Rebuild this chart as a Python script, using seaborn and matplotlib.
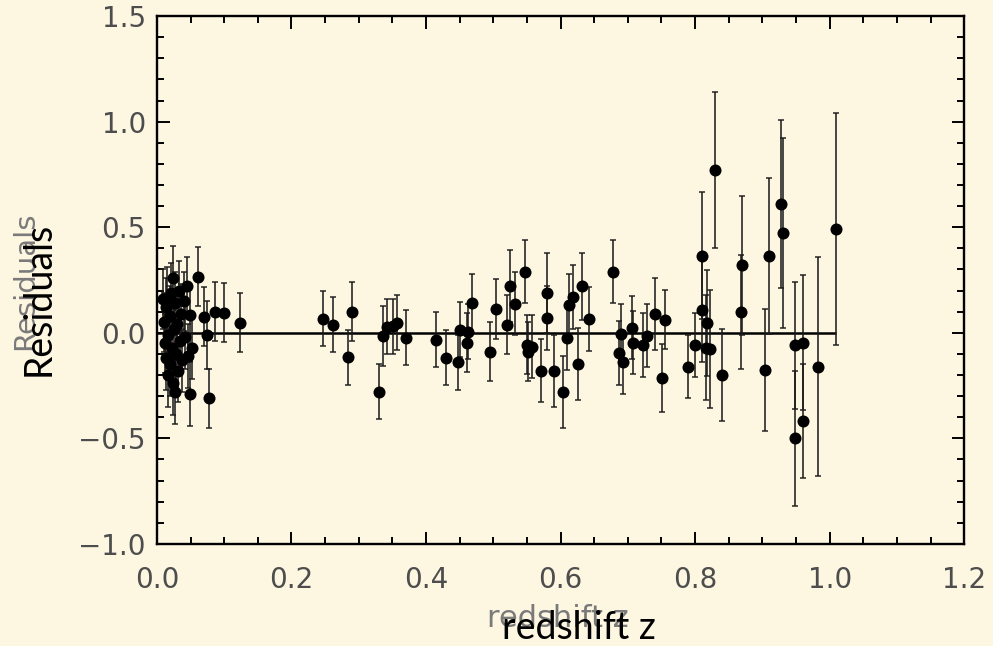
import numpy as np
import pandas as pd
import matplotlib
matplotlib.use("Agg")
import matplotlib.pyplot as plt
from matplotlib.ticker import MultipleLocator
import seaborn as sns

# residuals vs redshift
redshift = [0.009, 0.010, 0.012, 0.013, 0.014, 0.015, 0.016, 0.017, 0.019, 0.020,
            0.021, 0.023, 0.024, 0.024, 0.025, 0.027, 0.027, 0.028, 0.030, 0.031,
            0.033, 0.035, 0.036, 0.038, 0.040, 0.042, 0.045, 0.046, 0.049, 0.049,
            0.052, 0.061, 0.070, 0.074, 0.078, 0.086, 0.100, 0.123,
            0.247, 0.262, 0.284, 0.290, 0.330, 0.336, 0.342, 0.351, 0.357, 0.370,
            0.415, 0.430, 0.448, 0.450, 0.461, 0.463, 0.468, 0.495, 0.504, 0.520,
            0.525, 0.532, 0.547, 0.550, 0.552, 0.557, 0.571, 0.580, 0.580, 0.590,
            0.604, 0.609, 0.612, 0.619, 0.626, 0.632, 0.643, 0.678, 0.687, 0.690,
            0.693, 0.706, 0.708, 0.722, 0.729, 0.740, 0.751, 0.755, 0.790, 0.800,
            0.810, 0.810, 0.816, 0.817, 0.822, 0.830, 0.840, 0.868, 0.870, 0.904,
            0.910, 0.928, 0.930, 0.949, 0.949, 0.960, 0.960, 0.982, 1.010]
residual = [0.16, 0.05, -0.05, -0.12, 0.12, 0.16, -0.20, -0.01, 0.08, -0.15,
            0.19, -0.07, 0.26, -0.24, 0.02, 0.14, -0.28, -0.10, 0.04, -0.18,
            0.20, -0.04, 0.09, -0.13, 0.15, -0.02, 0.22, -0.11, 0.085, -0.29,
            -0.07, 0.265, 0.077, -0.01, -0.31, 0.10, 0.095, 0.047,
            0.066, 0.038, -0.115, 0.10, -0.28, -0.015, 0.028, 0.03, 0.047, -0.024,
            -0.033, -0.117, -0.14, 0.014, -0.047, 0.005, 0.14, -0.09, 0.113, 0.038,
            0.22, 0.138, 0.29, -0.057, -0.09, -0.065, -0.18, 0.19, 0.07, -0.18,
            -0.28, -0.024, 0.13, 0.17, -0.147, 0.22, 0.066, 0.29, -0.095, -0.005,
            -0.14, 0.024, -0.047, -0.057, -0.014, 0.09, -0.213, 0.062, -0.16, -0.057,
            0.11, 0.365, -0.07, 0.047, -0.076, 0.77, -0.20, 0.10, 0.32, -0.175,
            0.365, 0.61, 0.475, -0.06, -0.50, -0.047, -0.42, -0.16, 0.49]
error = [0.14, 0.14, 0.14, 0.15, 0.14, 0.15, 0.15, 0.14, 0.14, 0.15,
         0.14, 0.15, 0.15, 0.15, 0.14, 0.15, 0.15, 0.15, 0.14, 0.15,
         0.14, 0.14, 0.14, 0.15, 0.14, 0.15, 0.14, 0.15, 0.14, 0.15,
         0.15, 0.14, 0.14, 0.16, 0.14, 0.14, 0.14, 0.14,
         0.13, 0.13, 0.13, 0.14, 0.13, 0.14, 0.13, 0.13, 0.13, 0.13,
         0.13, 0.13, 0.13, 0.13, 0.14, 0.13, 0.14, 0.14, 0.14, 0.14,
         0.17, 0.15, 0.15, 0.14, 0.14, 0.15, 0.15, 0.19, 0.15, 0.17,
         0.17, 0.15, 0.15, 0.15, 0.17, 0.16, 0.15, 0.15, 0.15, 0.14,
         0.15, 0.15, 0.15, 0.15, 0.15, 0.17, 0.16, 0.14, 0.15, 0.15,
         0.25, 0.30, 0.25, 0.25, 0.28, 0.37, 0.22, 0.27, 0.33, 0.29,
         0.37, 0.40, 0.45, 0.30, 0.32, 0.32, 0.27, 0.52, 0.55]

df = pd.DataFrame({"redshift": redshift, "residual": residual, "error": error})

sns.set_theme(style="ticks")
bg = "#fdf6e1"
plt.rcParams["font.family"] = ["DejaVu Sans"]

fig = plt.figure(figsize=(9.93, 6.46), dpi=100, facecolor=bg)
ax = fig.add_axes([0.158, 0.158, 0.813, 0.817])
ax.set_facecolor(bg)

# zero line up to the last point
ax.hlines(0, 0, df["redshift"].max(), color="black", lw=1.8, zorder=2)

ax.errorbar(df["redshift"], df["residual"], yerr=df["error"], fmt="none",
            ecolor="#1a1a1a", elinewidth=1.4, capsize=2.4, capthick=1.3,
            alpha=0.8, zorder=3)
sns.scatterplot(data=df, x="redshift", y="residual", ax=ax, color="black",
                s=75, edgecolor="black", linewidth=0, zorder=4, legend=False)

ax.set_xlim(0, 1.2)
ax.set_ylim(-1.0, 1.5)
ax.xaxis.set_major_locator(MultipleLocator(0.2))
ax.xaxis.set_minor_locator(MultipleLocator(0.05))
ax.yaxis.set_major_locator(MultipleLocator(0.5))
ax.yaxis.set_minor_locator(MultipleLocator(0.1))
ax.xaxis.set_major_formatter(lambda v, p: f"{v:.1f}")
ax.yaxis.set_major_formatter(lambda v, p: f"{v:.1f}".replace("-", "\u2212"))

for s in ax.spines.values():
    s.set_linewidth(1.7)
    s.set_color("black")
ax.tick_params(which="both", direction="in", top=True, right=True,
               color="black", width=1.4, labelsize=20, labelcolor="#4d4d4d")
ax.tick_params(which="major", length=9)
ax.tick_params(which="minor", length=5)
ax.tick_params(axis="x", which="major", pad=16)
ax.tick_params(axis="y", which="major", pad=8)
ax.set_xlabel("")
ax.set_ylabel("")

# faint plot labels
fig.text(558 / 993, 1 - 627 / 646, "redshift z", ha="center", va="baseline",
         fontsize=22, color="#7a7a7a")
fig.text(33 / 993, 1 - 281 / 646, "Residuals", ha="center", va="baseline",
         rotation=90, rotation_mode="anchor", fontsize=21, color="#7a7a7a")

# overlaid slide labels
fig.text(579 / 993, 1 - 639 / 646, "redshift z", ha="center", va="baseline",
         fontsize=27, color="black", family=["Lato", "DejaVu Sans"])
fig.text(50 / 993, 1 - 299 / 646, "Residuals", ha="center", va="baseline",
         rotation=90, rotation_mode="anchor", fontsize=27, color="black",
         family=["Lato", "DejaVu Sans"])

fig.savefig("out.png", dpi=100, facecolor=bg)
